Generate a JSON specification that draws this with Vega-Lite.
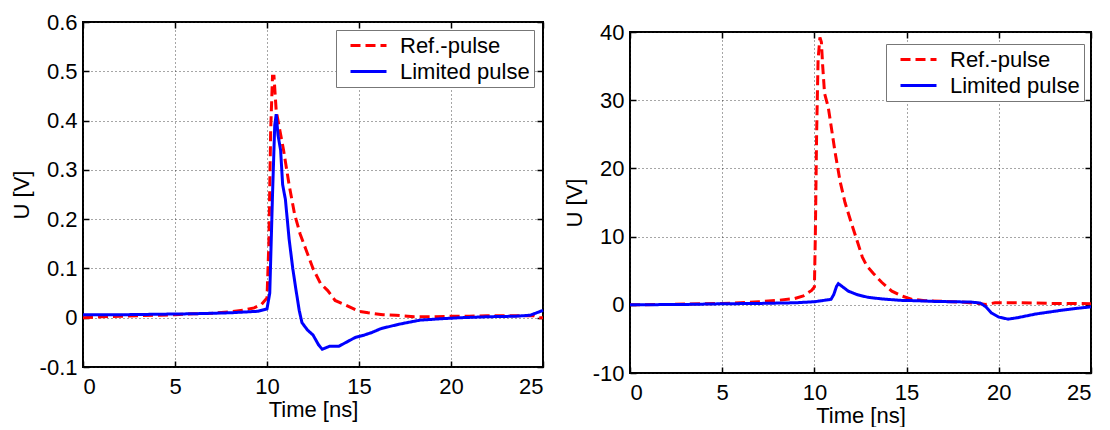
{
  "$schema": "https://vega.github.io/schema/vega-lite/v6.json",
  "background": "white",
  "padding": {"left": 9, "top": 10, "right": 0, "bottom": 0},
  "spacing": 12,
  "config": {
    "font": "Liberation Sans",
    "view": {"stroke": "black", "strokeWidth": 2},
    "axis": {
      "labelFont": "Liberation Sans",
      "labelFontSize": 22,
      "labelColor": "black",
      "titleFont": "Liberation Sans",
      "titleFontSize": 22,
      "titleFontWeight": "normal",
      "titleColor": "black",
      "domain": false,
      "tickColor": "black",
      "tickWidth": 1.5,
      "tickSize": -6,
      "gridColor": "#222222",
      "gridDash": [1, 3],
      "gridWidth": 1,
      "gridOpacity": 0.8
    },
    "axisX": {"labelPadding": 15, "titlePadding": 2},
    "axisY": {"labelPadding": 12, "titlePadding": 6},
    "legend": {
      "orient": "none",
      "symbolType": "M-1.8,0H1.8",
      "symbolSize": 400,
      "symbolStrokeWidth": 3,
      "symbolOffset": 17,
      "labelFont": "Liberation Sans",
      "labelFontSize": 22,
      "labelColor": "black",
      "labelOffset": 20,
      "strokeColor": "#777777",
      "fillColor": "white",
      "padding": 4,
      "rowPadding": 3
    }
  },
  "datasets": {
    "small": [
      {"t": 0, "u": 0.0, "series": "Ref.-pulse"},
      {"t": 1, "u": 0.002, "series": "Ref.-pulse"},
      {"t": 2, "u": 0.003, "series": "Ref.-pulse"},
      {"t": 3, "u": 0.004, "series": "Ref.-pulse"},
      {"t": 4, "u": 0.005, "series": "Ref.-pulse"},
      {"t": 5, "u": 0.006, "series": "Ref.-pulse"},
      {"t": 6, "u": 0.008, "series": "Ref.-pulse"},
      {"t": 7, "u": 0.009, "series": "Ref.-pulse"},
      {"t": 8, "u": 0.012, "series": "Ref.-pulse"},
      {"t": 8.7, "u": 0.015, "series": "Ref.-pulse"},
      {"t": 9.3, "u": 0.02, "series": "Ref.-pulse"},
      {"t": 9.7, "u": 0.027, "series": "Ref.-pulse"},
      {"t": 10.0, "u": 0.04, "series": "Ref.-pulse"},
      {"t": 10.1, "u": 0.15, "series": "Ref.-pulse"},
      {"t": 10.2, "u": 0.38, "series": "Ref.-pulse"},
      {"t": 10.3, "u": 0.49, "series": "Ref.-pulse"},
      {"t": 10.38, "u": 0.49, "series": "Ref.-pulse"},
      {"t": 10.5, "u": 0.42, "series": "Ref.-pulse"},
      {"t": 10.7, "u": 0.38, "series": "Ref.-pulse"},
      {"t": 10.9, "u": 0.34, "series": "Ref.-pulse"},
      {"t": 11.2, "u": 0.27, "series": "Ref.-pulse"},
      {"t": 11.5, "u": 0.21, "series": "Ref.-pulse"},
      {"t": 11.8, "u": 0.17, "series": "Ref.-pulse"},
      {"t": 12.1, "u": 0.14, "series": "Ref.-pulse"},
      {"t": 12.5, "u": 0.1, "series": "Ref.-pulse"},
      {"t": 12.9, "u": 0.07, "series": "Ref.-pulse"},
      {"t": 13.3, "u": 0.055, "series": "Ref.-pulse"},
      {"t": 13.7, "u": 0.035, "series": "Ref.-pulse"},
      {"t": 14.2, "u": 0.027, "series": "Ref.-pulse"},
      {"t": 14.6, "u": 0.02, "series": "Ref.-pulse"},
      {"t": 15.0, "u": 0.013, "series": "Ref.-pulse"},
      {"t": 15.5, "u": 0.01, "series": "Ref.-pulse"},
      {"t": 16.3, "u": 0.006, "series": "Ref.-pulse"},
      {"t": 17.0, "u": 0.005, "series": "Ref.-pulse"},
      {"t": 18.0, "u": 0.002, "series": "Ref.-pulse"},
      {"t": 19.0, "u": 0.002, "series": "Ref.-pulse"},
      {"t": 20, "u": 0.003, "series": "Ref.-pulse"},
      {"t": 21, "u": 0.003, "series": "Ref.-pulse"},
      {"t": 22, "u": 0.004, "series": "Ref.-pulse"},
      {"t": 23, "u": 0.004, "series": "Ref.-pulse"},
      {"t": 24.5, "u": 0.004, "series": "Ref.-pulse"},
      {"t": 24.8, "u": 0.0, "series": "Ref.-pulse"},
      {"t": 25, "u": 0.0, "series": "Ref.-pulse"},
      {"t": 0, "u": 0.006, "series": "Limited pulse"},
      {"t": 2, "u": 0.006, "series": "Limited pulse"},
      {"t": 4, "u": 0.007, "series": "Limited pulse"},
      {"t": 6, "u": 0.008, "series": "Limited pulse"},
      {"t": 8, "u": 0.01, "series": "Limited pulse"},
      {"t": 9.5, "u": 0.013, "series": "Limited pulse"},
      {"t": 10.0, "u": 0.018, "series": "Limited pulse"},
      {"t": 10.15, "u": 0.05, "series": "Limited pulse"},
      {"t": 10.3, "u": 0.25, "series": "Limited pulse"},
      {"t": 10.42, "u": 0.39, "series": "Limited pulse"},
      {"t": 10.5, "u": 0.413, "series": "Limited pulse"},
      {"t": 10.6, "u": 0.37, "series": "Limited pulse"},
      {"t": 10.74, "u": 0.34, "series": "Limited pulse"},
      {"t": 10.85, "u": 0.27, "series": "Limited pulse"},
      {"t": 11.0, "u": 0.24, "series": "Limited pulse"},
      {"t": 11.2, "u": 0.16, "series": "Limited pulse"},
      {"t": 11.4, "u": 0.1, "series": "Limited pulse"},
      {"t": 11.56, "u": 0.06, "series": "Limited pulse"},
      {"t": 11.75, "u": 0.015, "series": "Limited pulse"},
      {"t": 11.9, "u": -0.01, "series": "Limited pulse"},
      {"t": 12.2, "u": -0.025, "series": "Limited pulse"},
      {"t": 12.5, "u": -0.035, "series": "Limited pulse"},
      {"t": 12.8, "u": -0.055, "series": "Limited pulse"},
      {"t": 13.0, "u": -0.064, "series": "Limited pulse"},
      {"t": 13.4, "u": -0.058, "series": "Limited pulse"},
      {"t": 13.9, "u": -0.058, "series": "Limited pulse"},
      {"t": 14.3, "u": -0.05, "series": "Limited pulse"},
      {"t": 14.8, "u": -0.04, "series": "Limited pulse"},
      {"t": 15.3, "u": -0.035, "series": "Limited pulse"},
      {"t": 15.7, "u": -0.03, "series": "Limited pulse"},
      {"t": 16.2, "u": -0.022, "series": "Limited pulse"},
      {"t": 17.2, "u": -0.013, "series": "Limited pulse"},
      {"t": 18.3, "u": -0.005, "series": "Limited pulse"},
      {"t": 19.5, "u": -0.002, "series": "Limited pulse"},
      {"t": 20.5, "u": 0.0, "series": "Limited pulse"},
      {"t": 22, "u": 0.002, "series": "Limited pulse"},
      {"t": 23.5, "u": 0.003, "series": "Limited pulse"},
      {"t": 24.3, "u": 0.005, "series": "Limited pulse"},
      {"t": 24.8, "u": 0.012, "series": "Limited pulse"},
      {"t": 25, "u": 0.015, "series": "Limited pulse"}
    ],
    "large": [
      {"t": 0, "u": 0.0, "series": "Ref.-pulse"},
      {"t": 2, "u": 0.05, "series": "Ref.-pulse"},
      {"t": 4, "u": 0.15, "series": "Ref.-pulse"},
      {"t": 5, "u": 0.2, "series": "Ref.-pulse"},
      {"t": 6, "u": 0.3, "series": "Ref.-pulse"},
      {"t": 7, "u": 0.45, "series": "Ref.-pulse"},
      {"t": 8, "u": 0.65, "series": "Ref.-pulse"},
      {"t": 8.9, "u": 0.9, "series": "Ref.-pulse"},
      {"t": 9.4, "u": 1.3, "series": "Ref.-pulse"},
      {"t": 9.85, "u": 2.1, "series": "Ref.-pulse"},
      {"t": 10.0, "u": 2.6, "series": "Ref.-pulse"},
      {"t": 10.05, "u": 10, "series": "Ref.-pulse"},
      {"t": 10.12, "u": 25, "series": "Ref.-pulse"},
      {"t": 10.2, "u": 36, "series": "Ref.-pulse"},
      {"t": 10.3, "u": 39.2, "series": "Ref.-pulse"},
      {"t": 10.38, "u": 38.5, "series": "Ref.-pulse"},
      {"t": 10.45, "u": 35, "series": "Ref.-pulse"},
      {"t": 10.55, "u": 31, "series": "Ref.-pulse"},
      {"t": 10.75, "u": 29, "series": "Ref.-pulse"},
      {"t": 11.12, "u": 22.4, "series": "Ref.-pulse"},
      {"t": 11.4, "u": 18, "series": "Ref.-pulse"},
      {"t": 11.66, "u": 15, "series": "Ref.-pulse"},
      {"t": 12.0, "u": 12, "series": "Ref.-pulse"},
      {"t": 12.29, "u": 9.6, "series": "Ref.-pulse"},
      {"t": 12.6, "u": 7, "series": "Ref.-pulse"},
      {"t": 12.84, "u": 5.7, "series": "Ref.-pulse"},
      {"t": 13.2, "u": 4.6, "series": "Ref.-pulse"},
      {"t": 13.65, "u": 3.3, "series": "Ref.-pulse"},
      {"t": 14.2, "u": 2.0, "series": "Ref.-pulse"},
      {"t": 14.73, "u": 1.3, "series": "Ref.-pulse"},
      {"t": 15.3, "u": 0.8, "series": "Ref.-pulse"},
      {"t": 16, "u": 0.6, "series": "Ref.-pulse"},
      {"t": 17, "u": 0.5, "series": "Ref.-pulse"},
      {"t": 18, "u": 0.4, "series": "Ref.-pulse"},
      {"t": 18.9, "u": 0.2, "series": "Ref.-pulse"},
      {"t": 19.3, "u": 0.05, "series": "Ref.-pulse"},
      {"t": 19.8, "u": 0.3, "series": "Ref.-pulse"},
      {"t": 21, "u": 0.3, "series": "Ref.-pulse"},
      {"t": 22, "u": 0.25, "series": "Ref.-pulse"},
      {"t": 23, "u": 0.2, "series": "Ref.-pulse"},
      {"t": 24, "u": 0.2, "series": "Ref.-pulse"},
      {"t": 25, "u": 0.15, "series": "Ref.-pulse"},
      {"t": 0, "u": 0.0, "series": "Limited pulse"},
      {"t": 3, "u": 0.05, "series": "Limited pulse"},
      {"t": 5, "u": 0.15, "series": "Limited pulse"},
      {"t": 7, "u": 0.2, "series": "Limited pulse"},
      {"t": 9, "u": 0.3, "series": "Limited pulse"},
      {"t": 10, "u": 0.45, "series": "Limited pulse"},
      {"t": 10.9, "u": 0.8, "series": "Limited pulse"},
      {"t": 11.05, "u": 1.5, "series": "Limited pulse"},
      {"t": 11.2, "u": 2.7, "series": "Limited pulse"},
      {"t": 11.3, "u": 3.1, "series": "Limited pulse"},
      {"t": 11.45, "u": 2.8, "series": "Limited pulse"},
      {"t": 11.84, "u": 2.0, "series": "Limited pulse"},
      {"t": 12.3, "u": 1.5, "series": "Limited pulse"},
      {"t": 12.9, "u": 1.1, "series": "Limited pulse"},
      {"t": 13.7, "u": 0.85, "series": "Limited pulse"},
      {"t": 14.7, "u": 0.65, "series": "Limited pulse"},
      {"t": 15.5, "u": 0.6, "series": "Limited pulse"},
      {"t": 16.5, "u": 0.5, "series": "Limited pulse"},
      {"t": 17.5, "u": 0.45, "series": "Limited pulse"},
      {"t": 18.5, "u": 0.4, "series": "Limited pulse"},
      {"t": 19.0, "u": 0.25, "series": "Limited pulse"},
      {"t": 19.3, "u": -0.3, "series": "Limited pulse"},
      {"t": 19.6, "u": -1.2, "series": "Limited pulse"},
      {"t": 20.0, "u": -1.8, "series": "Limited pulse"},
      {"t": 20.5, "u": -2.1, "series": "Limited pulse"},
      {"t": 21.0, "u": -1.9, "series": "Limited pulse"},
      {"t": 22.0, "u": -1.35, "series": "Limited pulse"},
      {"t": 23.4, "u": -0.8, "series": "Limited pulse"},
      {"t": 24.3, "u": -0.5, "series": "Limited pulse"},
      {"t": 25, "u": -0.3, "series": "Limited pulse"}
    ]
  },
  "hconcat": [
    {
      "width": 460,
      "height": 345,
      "data": {"name": "small"},
      "layer": [
        {
          "mark": {"type": "line", "strokeWidth": 3},
          "encoding": {
            "x": {"field": "t", "type": "quantitative", "scale": {"domain": [0, 25], "nice": false},
                  "axis": {"values": [0, 5, 10, 15, 20, 25], "title": "Time [ns]"}},
            "y": {"field": "u", "type": "quantitative", "scale": {"domain": [-0.1, 0.6], "nice": false},
                  "axis": {"values": [-0.1, 0, 0.1, 0.2, 0.3, 0.4, 0.5, 0.6], "title": "U [V]",
                           "labelExpr": "datum.value < 0 ? '-' + format(-datum.value, '~g') : format(datum.value, '~g')"}},
            "color": {"field": "series", "type": "nominal",
                      "scale": {"domain": ["Ref.-pulse", "Limited pulse"], "range": ["#ff0000", "#0000ff"]},
                      "legend": {"title": null, "legendX": 253, "legendY": 8}},
            "strokeDash": {"field": "series", "type": "nominal",
                           "scale": {"domain": ["Ref.-pulse", "Limited pulse"], "range": [[10, 5], [1, 0]]},
                           "legend": {"title": null, "legendX": 253, "legendY": 8}}
          }
        },
        {
          "mark": {"type": "line", "opacity": 0},
          "encoding": {
            "x": {"field": "t", "type": "quantitative",
                  "axis": {"orient": "top", "values": [0, 5, 10, 15, 20, 25], "labels": false, "grid": false, "title": null}},
            "y": {"field": "u", "type": "quantitative",
                  "axis": {"orient": "right", "values": [-0.1, 0, 0.1, 0.2, 0.3, 0.4, 0.5, 0.6], "labels": false, "grid": false, "title": null}},
            "detail": {"field": "series"}
          }
        }
      ],
      "resolve": {"axis": {"x": "independent", "y": "independent"}}
    },
    {
      "spacing": -3,
      "vconcat": [
        {
          "width": 10,
          "height": 1,
          "view": {"stroke": null},
          "data": {"values": []},
          "mark": {"type": "rect", "opacity": 0},
          "encoding": {}
        },
        {
          "width": 461,
          "height": 341,
          "data": {"name": "large"},
          "layer": [
            {
              "mark": {"type": "line", "strokeWidth": 3},
              "encoding": {
                "x": {"field": "t", "type": "quantitative", "scale": {"domain": [0, 25], "nice": false},
                      "axis": {"values": [0, 5, 10, 15, 20, 25], "title": "Time [ns]"}},
                "y": {"field": "u", "type": "quantitative", "scale": {"domain": [-10, 40], "nice": false},
                      "axis": {"values": [-10, 0, 10, 20, 30, 40], "title": "U [V]",
                               "labelExpr": "datum.value < 0 ? '-' + format(-datum.value, '~g') : format(datum.value, '~g')"}},
                "color": {"field": "series", "type": "nominal",
                          "scale": {"domain": ["Ref.-pulse", "Limited pulse"], "range": ["#ff0000", "#0000ff"]},
                          "legend": {"title": null, "legendX": 256, "legendY": 22}},
                "strokeDash": {"field": "series", "type": "nominal",
                               "scale": {"domain": ["Ref.-pulse", "Limited pulse"], "range": [[10, 5], [1, 0]]},
                               "legend": {"title": null, "legendX": 256, "legendY": 22}}
              }
            },
            {
              "mark": {"type": "line", "opacity": 0},
              "encoding": {
                "x": {"field": "t", "type": "quantitative",
                      "axis": {"orient": "top", "values": [0, 5, 10, 15, 20, 25], "labels": false, "grid": false, "title": null}},
                "y": {"field": "u", "type": "quantitative",
                      "axis": {"orient": "right", "values": [-10, 0, 10, 20, 30, 40], "labels": false, "grid": false, "title": null}},
                "detail": {"field": "series"}
              }
            }
          ],
          "resolve": {"axis": {"x": "independent", "y": "independent"}}
        }
      ]
    }
  ],
  "resolve": {"scale": {"color": "independent", "strokeDash": "independent"}, "legend": {"color": "independent", "strokeDash": "independent"}}
}
